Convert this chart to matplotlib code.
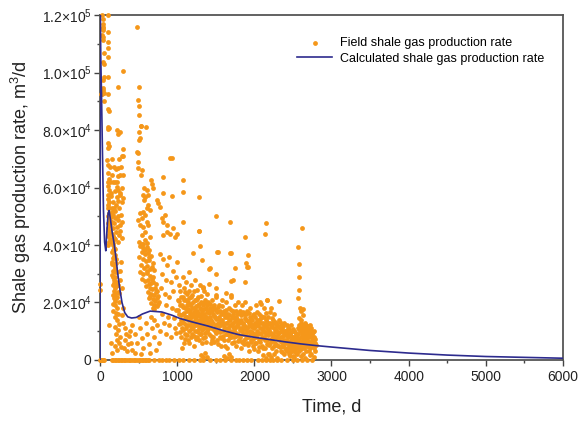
import numpy as np
import matplotlib.pyplot as plt
from matplotlib.ticker import MultipleLocator, FuncFormatter

plt.rcParams['font.family'] = ['Liberation Sans', 'DejaVu Sans']
plt.rcParams['mathtext.fontset'] = 'custom'
plt.rcParams['mathtext.rm'] = 'Liberation Sans'
plt.rcParams['mathtext.it'] = 'Liberation Sans:italic'

# field data, (day, rate in 10^3 m3/d)
field_early = [
    (2, 0), (8, 0), (15, 0), (25, 0), (35, 0), (45, 0), (55, 0), (5, 26.6), (3, 24.3),
    (30, 120), (40, 118.6), (35, 117), (38, 116), (42, 115.4), (40, 114.8), (30, 113),
    (38, 112.4), (42, 111.5), (48, 106.9), (45, 103.7), (46, 103), (48, 98.5), (40, 97.4),
    (45, 94.5), (42, 93.9), (10, 92.5), (30, 92.4), (50, 92.8), (48, 90.2),
    (100, 120), (100, 114), (108, 110.7), (108, 108.4), (100, 105.5), (110, 98.5), (108, 92.5),
    (102, 87.3), (115, 86.6), (108, 81.1), (118, 80.6), (108, 80.3), (108, 75.4), (117, 74.5),
    (100, 73.8), (91, 69.6), (108, 67.8), (130, 67.2), (100, 65), (120, 63), (110, 62),
    (105, 60.5), (115, 59), (110, 57.5), (100, 56), (118, 55), (105, 54), (120, 53), (108, 52.8),
    (112, 51), (104, 50), (118, 49.5), (125, 48.5), (110, 47.5), (130, 47), (102, 46), (115, 45),
    (120, 44), (108, 43), (125, 42), (112, 41), (105, 40),
]

field_first_year_high = [
    (302, 100.6), (237, 95), (216, 80.2), (259, 79.2), (229, 78.6), (302, 73.4), (281, 71),
    (302, 71), (186, 67), (203, 66.4), (237, 66.9), (272, 67.2), (259, 64.3), (302, 64.3),
    (229, 64.1), (151, 64.3), (130, 62), (194, 61.8), (216, 60.3), (237, 59.1), (194, 58.8),
    (259, 57.4), (216, 56.8), (302, 56.4), (229, 55.3), (151, 51.6), (173, 50.4), (143, 49.8),
    (194, 49.3), (160, 48.1), (186, 47.5), (216, 46.4), (173, 45.8), (237, 48.7), (272, 50.4),
    (259, 47), (203, 44.6), (151, 44), (246, 43.5), (186, 42.3), (281, 42.3), (229, 41.2),
    (173, 40.6), (140, 57), (165, 55), (180, 53), (250, 53), (290, 60), (150, 70), (170, 62),
    (200, 52), (230, 50), (260, 45), (145, 58), (155, 53), (175, 43), (195, 42), (210, 54),
    (280, 55), (220, 62), (240, 70), (265, 58), (290, 48),
]

field_first_year_low = [
    (150, 41), (165, 40), (180, 39), (200, 38.5), (160, 37.5), (190, 36.5), (175, 35.5),
    (210, 35), (155, 34), (185, 33), (200, 32), (170, 31), (220, 30.5), (160, 29.5), (195, 29),
    (180, 28), (210, 27), (165, 26), (200, 25), (185, 24), (230, 23.5), (175, 22.5), (210, 21.5),
    (190, 20.5), (250, 23.2), (240, 20), (200, 19), (215, 18), (170, 17), (230, 16), (195, 15),
    (220, 14), (250, 12.5), (190, 11.5), (235, 10.5), (205, 9), (260, 8), (215, 7), (245, 6),
    (190, 5), (270, 4.5), (225, 3.5), (300, 13), (320, 11), (340, 9), (330, 7), (360, 5.5),
    (310, 4), (350, 3), (380, 8.5), (400, 6), (390, 10), (410, 3.5), (280, 15.5), (300, 18),
    (265, 28), (285, 25), (255, 31), (275, 34), (140, 6), (160, 2.5), (120, 12),
    (168, 38.2), (183, 36.1), (157, 33.4), (205, 33.7), (188, 30.6), (173, 28.9), (213, 25.8),
    (179, 26.7), (197, 23.1), (222, 21.9), (186, 21.7), (208, 16.4), (163, 19.6), (238, 26.2),
]

field_second_column = [
    (475, 116), (505, 95), (497, 90.4), (505, 88.3), (505, 85.2), (531, 81.5), (592, 81.1),
    (527, 81.4), (510, 79.2), (518, 77.1), (505, 76.5), (475, 72.4), (497, 71.9), (488, 68.8),
    (497, 66.9), (907, 70.2), (933, 70.2), (540, 66.1), (531, 64.3), (661, 62.6), (670, 61.4),
    (691, 59.7), (575, 59.7), (605, 59.1), (562, 57.4), (626, 57.4), (583, 56.8), (575, 55.6),
    (821, 63.7), (821, 58), (929, 57.2), (734, 55.6), (756, 54.5), (778, 53.3), (626, 53.9),
    (605, 52.8), (648, 52.2), (518, 51), (562, 51.4), (583, 50.4), (540, 49.3), (842, 50.4),
    (799, 49.3), (821, 48.1), (864, 47), (950, 45.8), (864, 44.6), (994, 44), (497, 48.7),
    (518, 47), (562, 46.4), (605, 48.1), (626, 47), (583, 44.6), (540, 43.5), (648, 42.9),
    (583, 41.7), (540, 40.5), (562, 40.3), (605, 40.6), (821, 43.5), (907, 44), (972, 42.9),
    (500, 41), (520, 39.6), (562, 38.8), (603, 39.2), (641, 38.1), (538, 37.4), (577, 36.9),
    (622, 37.3), (655, 36.2), (511, 35.7), (552, 35.1), (594, 34.4), (634, 34.9), (684, 33.6),
    (529, 33.2), (568, 32.1), (612, 32.8), (652, 31.7), (703, 31.2), (523, 30.6), (561, 29.8),
    (603, 30.3), (644, 29.1), (688, 28.7), (541, 28.2), (583, 27.4), (618, 27.9), (663, 26.8),
    (722, 26.3), (598, 25.7), (642, 25.2), (679, 24.6), (744, 24.1), (622, 23.8), (661, 23.1),
    (704, 22.6), (758, 22.2), (636, 21.7), (683, 21.3), (719, 20.5), (664, 19.9), (701, 19.2),
    (741, 18.7), (682, 18.2),
    (547, 40.1), (588, 38.3), (629, 35.8), (671, 32.4), (612, 30.9), (693, 27.1), (632, 26.6),
    (713, 24.9), (651, 22.4), (734, 21.6), (697, 17.6), (758, 19.4), (726, 23.7), (669, 28.3),
    (780, 37), (820, 35), (870, 33), (900, 36), (950, 31), (1000, 34), (800, 30), (850, 28),
    (920, 27), (980, 29), (1030, 26), (790, 25), (840, 23), (890, 22), (940, 24), (1010, 21),
    (770, 20), (860, 19), (930, 18), (990, 17.5), (1040, 19), (810, 16), (880, 15), (960, 14.5),
    (1020, 16), (830, 13), (900, 12), (970, 11), (1050, 13), (780, 10), (850, 9), (920, 8),
    (990, 9.5), (420, 12), (450, 9), (480, 6), (500, 15), (520, 11), (540, 7.5), (560, 4),
    (590, 13), (610, 9), (630, 5.5), (660, 15), (680, 11), (700, 8), (720, 3.5), (740, 12),
    (760, 6), (460, 2.5), (530, 2), (650, 2.5), (700, 14),
]

field_outliers = [
    (1072, 62.6), (1080, 58.3), (1080, 48.1), (1287, 56.8), (1283, 44.9), (1503, 50.1),
    (1685, 48.1), (1287, 45), (1209, 37.3), (1296, 39.7), (1521, 37.7), (1685, 37.1),
    (1879, 42.9), (1901, 32.5), (2151, 47.5), (2138, 43.8), (1750, 31.9), (1426, 31.9),
    (1879, 27.2), (1728, 27.8), (1534, 37.6), (1693, 37.1), (1922, 36.5), (1892, 33.8),
    (1914, 32.2), (1417, 31.8), (1318, 34.7), (1503, 29.8), (1698, 27.4), (1417, 26.6),
    (1339, 25.5), (1503, 25.1), (1633, 23.2), (1693, 22.6), (1503, 22.6), (2087, 19.4),
    (2160, 20.8), (2320, 20.6), (2635, 17.9), (1080, 29), (1120, 27), (1180, 26), (1230, 28),
    (1300, 26), (1150, 30.5), (1260, 24.5), (1350, 24),
    (2614, 46), (2570, 39.4), (2583, 33.3), (2579, 29), (2583, 24.3), (2570, 21.5),
    (2627, 15.6), (2601, 13.9), (2592, 18), (2610, 17), (2575, 14.5),
]

field_late = [
    (1040, 24), (1045, 14), (1050, 8), (1060, 19), (1065, 11), (1070, 22), (1080, 16), (1085, 6),
    (1090, 25), (1095, 13), (1100, 18), (1105, 9), (1110, 21), (1115, 15), (1120, 12), (1125, 23),
    (1130, 17), (1135, 7), (1140, 20), (1145, 14), (1150, 10), (1155, 24), (1160, 16), (1165, 19),
    (1170, 12), (1175, 8), (1180, 22), (1185, 15), (1190, 18), (1195, 11), (1200, 13), (1205, 20),
    (1210, 16), (1215, 5), (1220, 24), (1225, 14), (1230, 18), (1235, 10), (1240, 21), (1245, 15),
    (1250, 12), (1255, 17), (1260, 8), (1265, 19), (1270, 13), (1275, 22), (1280, 16), (1285, 11),
    (1290, 14), (1295, 18), (1300, 9), (1305, 20), (1310, 15), (1315, 12), (1320, 17), (1325, 6),
    (1330, 25), (1335, 13), (1340, 19), (1345, 11), (1350, 16), (1355, 21), (1360, 14), (1365, 8),
    (1370, 18), (1375, 12), (1380, 15), (1385, 23), (1390, 10), (1395, 17), (1400, 13),
    (1405, 20), (1410, 9), (1420, 15), (1425, 12), (1430, 18), (1435, 6), (1440, 14), (1450, 21),
    (1455, 11), (1460, 16), (1465, 8), (1470, 13), (1480, 19), (1485, 10), (1490, 15), (1500, 12),
    (1505, 22), (1510, 7), (1520, 17), (1525, 13), (1530, 10), (1540, 15), (1545, 19), (1550, 8),
    (1560, 12), (1565, 16), (1570, 5), (1580, 14), (1585, 21), (1590, 10), (1600, 13), (1605, 17),
    (1610, 7), (1620, 11), (1625, 15), (1630, 20), (1640, 9), (1645, 13), (1650, 4), (1660, 16),
    (1665, 11), (1670, 18), (1680, 8), (1685, 14), (1690, 12), (1700, 22), (1705, 6), (1710, 15),
    (1720, 10), (1725, 17), (1730, 13), (1740, 8), (1745, 19), (1750, 11), (1760, 15), (1765, 5),
    (1770, 12), (1780, 16), (1785, 9), (1790, 20), (1800, 13),
    (1805, 7), (1810, 17), (1820, 11), (1825, 14), (1830, 4), (1840, 19), (1845, 10), (1850, 13),
    (1860, 7), (1865, 16), (1870, 12), (1880, 9), (1885, 20), (1890, 14), (1900, 6), (1905, 11),
    (1910, 17), (1920, 8), (1925, 13), (1930, 3), (1940, 15), (1945, 10), (1950, 18), (1960, 7),
    (1965, 12), (1970, 14), (1980, 5), (1985, 9), (1990, 16), (2000, 11), (2005, 13), (2010, 6),
    (2020, 19), (2025, 8), (2030, 14), (2040, 10), (2045, 3), (2050, 12), (2060, 16), (2065, 7),
    (2070, 11), (2080, 20), (2085, 9), (2090, 13), (2100, 5), (2105, 15), (2110, 10), (2120, 8),
    (2125, 18), (2130, 12), (2140, 4), (2145, 14), (2150, 9), (2160, 21), (2165, 11), (2170, 7),
    (2180, 15), (2185, 2), (2190, 10), (2200, 13), (2205, 6), (2210, 18), (2220, 9), (2225, 12),
    (2230, 4), (2240, 14), (2245, 8), (2250, 11), (2260, 16), (2265, 6), (2270, 10), (2280, 13),
    (2285, 3), (2290, 8), (2300, 12),
    (2305, 5), (2310, 9), (2320, 14), (2325, 7), (2330, 11), (2340, 3), (2345, 8), (2350, 12),
    (2360, 5), (2365, 10), (2370, 6.5), (2380, 2), (2385, 9), (2390, 13), (2400, 4), (2405, 7),
    (2410, 10), (2420, 3), (2425, 6), (2430, 11), (2440, 8), (2445, 2), (2450, 5), (2460, 9),
    (2465, 4), (2470, 7), (2480, 12), (2485, 3), (2490, 6), (2500, 8), (2505, 1.5), (2510, 5),
    (2520, 10), (2525, 3.5), (2530, 7), (2540, 4), (2545, 9), (2550, 2),
    (2560, 11), (2565, 6), (2570, 9), (2575, 3), (2580, 12), (2585, 7), (2590, 10), (2595, 4),
    (2600, 8), (2605, 13), (2610, 5), (2615, 11), (2620, 9), (2625, 2), (2630, 7), (2635, 12),
    (2640, 10), (2645, 4), (2650, 8), (2655, 11), (2660, 6), (2665, 9), (2670, 3), (2675, 12),
    (2680, 7), (2685, 10), (2690, 5), (2695, 8), (2700, 11), (2705, 3), (2710, 9), (2715, 6),
    (2720, 12), (2725, 4), (2730, 8), (2735, 10), (2740, 2), (2745, 7), (2750, 9), (2760, 5),
    (2770, 8), (2780, 3), (2790, 6),
]

field_late_fill = [
    (1012, 17.3), (1018, 12.6), (1027, 20.4), (1033, 9.8), (1047, 15.7), (1053, 21.9),
    (1058, 4.3), (1067, 13.1), (1073, 18.6), (1078, 10.4), (1087, 20.8), (1093, 16.2),
    (1098, 7.4), (1103, 14.5), (1108, 23.6), (1117, 11.2), (1122, 19.1), (1128, 8.7),
    (1133, 14.9), (1138, 17.8), (1147, 12.3), (1152, 21.4), (1158, 5.9), (1163, 13.8),
    (1168, 16.9), (1173, 10.7), (1178, 19.6), (1187, 13.3), (1192, 9.2), (1197, 22.7),
    (1202, 15.4), (1208, 11.6), (1213, 18.2), (1218, 8.4), (1223, 16.6), (1228, 20.7),
    (1233, 12.8), (1238, 14.1), (1243, 7.3), (1248, 18.9), (1253, 10.1), (1258, 15.8),
    (1263, 21.2), (1268, 9.6), (1273, 16.3), (1278, 13.7), (1283, 19.4), (1288, 6.8),
    (1293, 11.9), (1298, 15.2), (1303, 17.6), (1308, 8.9), (1313, 22.1), (1318, 13.4),
    (1323, 10.3), (1328, 16.1), (1333, 19.8), (1338, 7.7), (1343, 14.6), (1348, 12.2),
    (1353, 17.9), (1358, 9.4), (1363, 20.3), (1368, 15.1), (1373, 11.4), (1378, 6.2),
    (1383, 16.8), (1388, 13.9), (1393, 19.2), (1398, 10.6),
    (1412, 16.4), (1418, 11.3), (1427, 19.6), (1433, 8.2), (1438, 13.6), (1446, 17.2),
    (1452, 7.1), (1458, 12.7), (1463, 18.3), (1468, 10.8), (1476, 15.3), (1482, 6.4),
    (1488, 17.7), (1494, 11.6), (1498, 14.2), (1508, 9.3), (1514, 16.8), (1518, 12.1),
    (1528, 18.4), (1534, 5.7), (1538, 11.8), (1547, 14.4), (1553, 17.1), (1558, 9.9),
    (1568, 13.2), (1574, 7.6), (1578, 18.8), (1588, 12.4), (1594, 15.9), (1598, 8.3),
    (1608, 11.5), (1614, 16.3), (1618, 4.8), (1628, 12.9), (1634, 9.1), (1638, 17.4),
    (1648, 14.8), (1654, 6.9), (1658, 11.1), (1668, 13.9), (1674, 8.6), (1678, 15.7),
    (1688, 10.2), (1694, 17.3), (1698, 7.9), (1708, 12.6), (1714, 9.4), (1718, 16.1),
    (1728, 11.3), (1734, 6.1), (1738, 14.7), (1748, 13.6), (1754, 9.8), (1758, 17.2),
    (1768, 8.4), (1774, 14.3), (1778, 11.7), (1788, 6.7), (1794, 12.8), (1798, 16.5),
    (1808, 10.4), (1814, 13.6), (1818, 8.1), (1828, 15.8), (1834, 11.2), (1838, 6.3),
    (1848, 16.7), (1854, 9.2), (1858, 12.6), (1868, 5.4), (1874, 14.6), (1878, 10.7),
    (1888, 11.4), (1894, 7.8), (1898, 15.9), (1908, 9.6), (1914, 13.4), (1918, 5.2),
    (1928, 11.7), (1934, 16.2), (1938, 8.7), (1948, 12.9), (1954, 6.4), (1958, 14.1),
    (1968, 9.8), (1974, 11.3), (1978, 15.6), (1988, 7.4), (1994, 12.2), (1998, 3.9),
    (2008, 14.8), (2014, 9.1), (2018, 11.9), (2028, 5.8), (2034, 16.6), (2038, 12.4),
    (2048, 8.9), (2054, 13.7), (2058, 4.6), (2068, 14.2), (2074, 9.3), (2078, 6.1),
    (2088, 15.3), (2094, 11.1), (2098, 7.6), (2108, 12.7), (2114, 4.2), (2118, 10.8),
    (2128, 15.1), (2134, 6.9), (2138, 9.7), (2148, 11.8), (2154, 16.4), (2158, 5.6),
    (2168, 13.3), (2174, 8.8), (2178, 10.6), (2188, 12.5), (2194, 5.1), (2198, 16.8),
    (2208, 9.9), (2214, 7.3), (2218, 11.6), (2228, 14.7), (2234, 6.6), (2238, 9.2),
    (2248, 12.9), (2254, 4.9), (2258, 8.3), (2268, 13.2), (2274, 7.9), (2278, 10.4),
    (2288, 11.7), (2294, 5.3), (2298, 9.6),
    (2312, 7.2), (2318, 11.4), (2328, 4.6), (2334, 9.8), (2338, 13.1), (2348, 6.1),
    (2354, 10.6), (2358, 2.9), (2368, 8.3), (2374, 11.9), (2378, 4.8), (2388, 7.1),
    (2394, 10.2), (2398, 5.9), (2408, 8.6), (2414, 3.3), (2418, 12.3), (2428, 6.7),
    (2434, 9.4), (2438, 4.1), (2448, 10.9), (2454, 6.3), (2458, 2.6), (2468, 8.8),
    (2474, 5.2), (2478, 9.9), (2488, 4.4), (2494, 7.7), (2498, 10.8), (2508, 3.2),
    (2514, 8.1), (2518, 5.7), (2528, 9.6), (2534, 2.4), (2538, 6.2), (2548, 7.9),
    (2558, 4.6), (2568, 7.3), (2578, 10.6), (2588, 5.8), (2598, 11.4), (2608, 3.7),
    (2618, 6.4), (2628, 10.2), (2638, 5.1), (2648, 9.4), (2658, 12.8), (2668, 7.6),
    (2678, 4.8), (2688, 11.9), (2698, 6.7), (2708, 10.4), (2718, 8.2), (2728, 5.6),
    (2738, 11.2), (2748, 6.1), (2758, 9.7), (2768, 4.2), (2778, 10.1), (2788, 7.4),
    (2798, 5.2),
    (1310, 1.8), (1335, 0.9), (1360, 2.4), (1385, 1.2), (1610, 1.5), (1640, 0.8),
    (1675, 2.1), (1702, 1.1), (2110, 1.6), (2145, 0.7), (2178, 2.2), (2215, 1.0),
    (2250, 1.9), (2288, 0.6), (2460, 1.3), (2520, 0.9), (2600, 1.4), (2660, 0.8),
    (2720, 1.7), (2775, 1.1),
]

# shut-in days, rate ~ 0
zero_days = [150, 170, 190, 210, 230, 250, 270, 290, 310, 330, 350, 370, 390, 420, 440, 460,
             480, 500, 520, 540, 560, 580, 600, 620, 640, 700, 760, 800, 850, 900, 960, 1020,
             1080, 1150, 1220, 1300, 1330, 1420, 1500, 1560, 1620, 1700, 1760, 1800, 1850,
             1900, 1960, 2050, 2100, 2150, 2200, 2240, 2300, 2350, 2420, 2500, 2550, 2620,
             2680, 2750]

# calculated curve
calc_days = [0, 3, 10, 20, 32, 45, 60, 75, 90, 105, 118, 135, 155, 180, 205, 230, 255, 285,
             320, 360, 410, 470, 550, 650, 800, 930, 1040, 1200, 1400, 1600, 1800, 2000,
             2200, 2400, 2600, 2800, 3000, 3500, 4000, 4500, 5000, 5500, 6000]
calc_rate_k = [0, 124, 105, 92, 72, 52, 41, 38, 45, 51, 52, 49, 45, 41, 36, 30, 25, 20,
               16.5, 15, 14.6, 14.8, 16, 17, 16.7, 15.6, 14.4, 13.2, 11.8, 10.2, 8.8, 7.9,
               7.1, 6.3, 5.6, 5.0, 4.5, 3.3, 2.4, 1.7, 1.2, 0.9, 0.6]

field = np.array(field_early + field_first_year_high + field_first_year_low
                 + field_second_column + field_outliers + field_late + field_late_fill)
t_field = np.concatenate([field[:, 0], zero_days])
q_field = np.concatenate([field[:, 1] * 1000, np.zeros(len(zero_days))])

fig = plt.figure(figsize=(5.78, 4.21), dpi=100)
ax = fig.add_axes([0.173, 0.145, 0.801, 0.819])

orange = '#F5971A'
navy = '#2D2B8E'
ax.scatter(t_field, q_field, s=12, color=orange, linewidths=0, zorder=3, clip_on=False,
           label='Field shale gas production rate')
ax.plot(calc_days, np.array(calc_rate_k) * 1000, color=navy, lw=1.2, zorder=4,
        label='Calculated shale gas production rate')

ax.set_xlim(0, 6000)
ax.set_ylim(0, 1.2e5)
ax.xaxis.set_major_locator(MultipleLocator(1000))
ax.xaxis.set_minor_locator(MultipleLocator(500))
ax.yaxis.set_major_locator(MultipleLocator(2e4))
ax.yaxis.set_minor_locator(MultipleLocator(1e4))


def yfmt(v, pos):
    if abs(v) < 1:
        return '0'
    if v < 0:
        return ''
    e = int(np.floor(np.log10(v)))
    return '%.1f$\\times$10$^{%d}$' % (v / 10 ** e, e)


ax.yaxis.set_major_formatter(FuncFormatter(yfmt))
ax.tick_params(which='both', direction='out', colors='#444444', labelcolor='#222222',
               labelsize=10)
ax.tick_params(axis='y', pad=2)
ax.tick_params(which='major', length=4, width=1)
ax.tick_params(which='minor', length=2.5, width=1)
for sp in ax.spines.values():
    sp.set_color('#555555')
    sp.set_linewidth(1.3)

ax.set_xlabel('Time, d', fontsize=13, color='#222222', labelpad=10)
ax.set_ylabel('Shale gas production rate, m$^3$/d', fontsize=13, color='#222222', labelpad=6)

ax.legend(loc='upper left', bbox_to_anchor=(0.413, 0.955), frameon=False, fontsize=9,
          borderpad=0, handlelength=2.8, handletextpad=0.6, labelspacing=0.3,
          scatterpoints=1, markerscale=1.0)

fig.savefig('out.png', dpi=100)
